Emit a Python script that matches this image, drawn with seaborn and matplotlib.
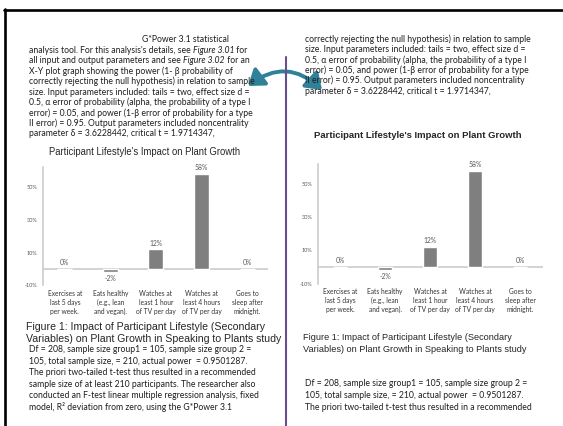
import matplotlib
matplotlib.use("Agg")
import matplotlib.pyplot as plt
import seaborn as sns
import pandas as pd
from matplotlib.lines import Line2D
from matplotlib.patches import FancyArrowPatch

# ---- chart data ----
categories = [
    "Exercises at\nlast 5 days\nper week.",
    "Eats healthy\n(e.g., lean\nand vegan).",
    "Watches at\nleast 1 hour\nof TV per day",
    "Watches at\nleast 4 hours\nof TV per day",
    "Goes to\nsleep after\nmidnight.",
]
impact = [0.00, -0.02, 0.12, 0.58, 0.00]
ytick_values = [-0.10, 0.10, 0.30, 0.50]
ytick_labels = ["-10%", "10%", "30%", "50%"]
chart_title = "Participant Lifestyle's Impact on Plant Growth"
caption_lines = [
    "Figure 1: Impact of Participant Lifestyle (Secondary",
    "Variables) on Plant Growth in Speaking to Plants study",
]

# ---- page text (tuples = mixed normal / italic pieces) ----
left_top_lines = [
    [("analysis tool. For this analysis's details, see ", "normal"),
     ("Figure 3.01", "italic"), (" for", "normal")],
    [("all input and output parameters and see ", "normal"),
     ("Figure 3.02", "italic"), (" for an", "normal")],
    "X-Y plot graph showing the power (1- β probability of",
    "correctly rejecting the null hypothesis) in relation to sample",
    "size. Input parameters included: tails = two, effect size d =",
    "0.5, α error of probability (alpha, the probability of a type I",
    "error) = 0.05, and power (1-β error of probability for a type",
    "II error) = 0.95. Output parameters included noncentrality",
    "parameter δ = 3.6228442, critical t = 1.9714347,",
]
left_bottom_lines = [
    "Df = 208, sample size group1 = 105, sample size group 2 =",
    "105, total sample size, = 210, actual power  = 0.9501287.",
    "The priori two-tailed t-test thus resulted in a recommended",
    "sample size of at least 210 participants. The researcher also",
    "conducted an F-test linear multiple regression analysis, fixed",
    "model, R² deviation from zero, using the G*Power 3.1",
]
right_top_lines = left_top_lines[3:]
right_bottom_lines = left_bottom_lines[:3]

sns.set_theme(style="white")
BODY = ["Lato", "Open Sans", "DejaVu Sans"]
ARIAL = ["Liberation Sans", "DejaVu Sans"]
plt.rcParams["font.family"] = BODY

BAR = "#7f7f7f"
AXIS = "#c8c8c8"
LABEL = "#595959"
TEXT = "#1e1e1e"
BODY_SIZE = 6.2

W, H = 563, 426
fig = plt.figure(figsize=(W / 100, H / 100), dpi=100)
fig.patch.set_facecolor("white")
renderer = fig.canvas.get_renderer()


def fx(x):
    return x / W


def fy(y):
    return 1 - y / H


def put(x, y, s, size, family=BODY, **kw):
    kw.setdefault("ha", "left")
    kw.setdefault("color", TEXT)
    return fig.text(fx(x), fy(y), s, fontsize=size, family=family,
                    va="center", **kw)


def put_line(x, y, line, size=BODY_SIZE):
    if isinstance(line, str):
        put(x, y, line, size)
        return
    for piece, style in line:
        t = put(x, y, piece, size, style=style)
        x = t.get_window_extent(renderer).x1


def draw_chart(box, xlim):
    x0, x1, ytop, ybot = box
    ax = fig.add_axes([fx(x0), fy(ybot), (x1 - x0) / W, (ybot - ytop) / H])
    df = pd.DataFrame({"lifestyle": categories, "impact": impact})
    ax.axhline(0, color=AXIS, lw=1.1, zorder=0)
    sns.barplot(data=df, x="lifestyle", y="impact", color=BAR, saturation=1,
                width=0.33, errorbar=None, ax=ax, zorder=2)
    ax.bar_label(ax.containers[0], labels=[f"{v:.0%}" for v in impact],
                 padding=2, fontsize=4.9, color=LABEL)
    ax.set_xlim(*xlim)
    ax.set_ylim(-0.10, 0.62)
    ax.set_yticks(ytick_values, ytick_labels)
    ax.set_xlabel("")
    ax.set_ylabel("")
    ax.tick_params(axis="y", length=0, pad=4, labelsize=4.0, labelcolor=LABEL)
    ax.tick_params(axis="x", length=0, pad=3, labelsize=4.8, labelcolor="#333333")
    for lbl in ax.get_xticklabels():
        lbl.set_linespacing(1.35)
    for side in ["top", "right", "bottom"]:
        ax.spines[side].set_visible(False)
    ax.spines["left"].set_color(AXIS)
    ax.spines["left"].set_linewidth(1.1)
    ax.patch.set_alpha(0)
    return ax


# ---- left page ----
put(142, 39, "G*Power 3.1 statistical", BODY_SIZE)
for i, line in enumerate(left_top_lines):
    put_line(29, 50.5 + i * 10.4, line)
put(144.5, 152, chart_title, 6.85, family=ARIAL, ha="center", color="#262626")
draw_chart((43, 268, 167, 285.5), (-0.48, 4.46))
for i, line in enumerate(caption_lines):
    put(26, 327 + i * 11.5, line, 7.6, family=ARIAL, color="#262626")
for i, line in enumerate(left_bottom_lines):
    put_line(29, 350 + i * 11.4, line)

# ---- right page ----
for i, line in enumerate(right_top_lines):
    put_line(305, 39 + i * 10.4, line)
put(417.5, 136, chart_title, 6.8, family=ARIAL, ha="center",
    weight="bold", color="#262626")
draw_chart((318, 543, 164, 283.6), (-0.49, 4.51))
for i, line in enumerate(caption_lines):
    put(303, 338 + i * 11, line, 6.6, family=ARIAL, color="#262626")
for i, line in enumerate(right_bottom_lines):
    put_line(305, 384 + i * 11.5, line)

# ---- page frame, divider and arrow ----
fig.add_artist(Line2D([fx(4), 1], [fy(9.5), fy(9.5)], color="black", lw=1.9,
                      transform=fig.transFigure))
fig.add_artist(Line2D([fx(5.3), fx(5.3)], [fy(9), 0], color="black", lw=1.9,
                      transform=fig.transFigure))
fig.add_artist(Line2D([fx(286), fx(286)], [fy(57), 0], color="#6b4e8e", lw=1.5,
                      transform=fig.transFigure))
arrow = FancyArrowPatch(
    (fx(248), fy(86)), (fx(322), fy(90)), transform=fig.transFigure,
    arrowstyle="<|-|>,head_length=0.45,head_width=0.32", mutation_scale=20,
    connectionstyle="arc3,rad=-0.42", lw=2.8, color="#2e8199",
    shrinkA=0, shrinkB=0)
fig.add_artist(arrow)

fig.savefig("out.png", dpi=100)
plt.close(fig)
